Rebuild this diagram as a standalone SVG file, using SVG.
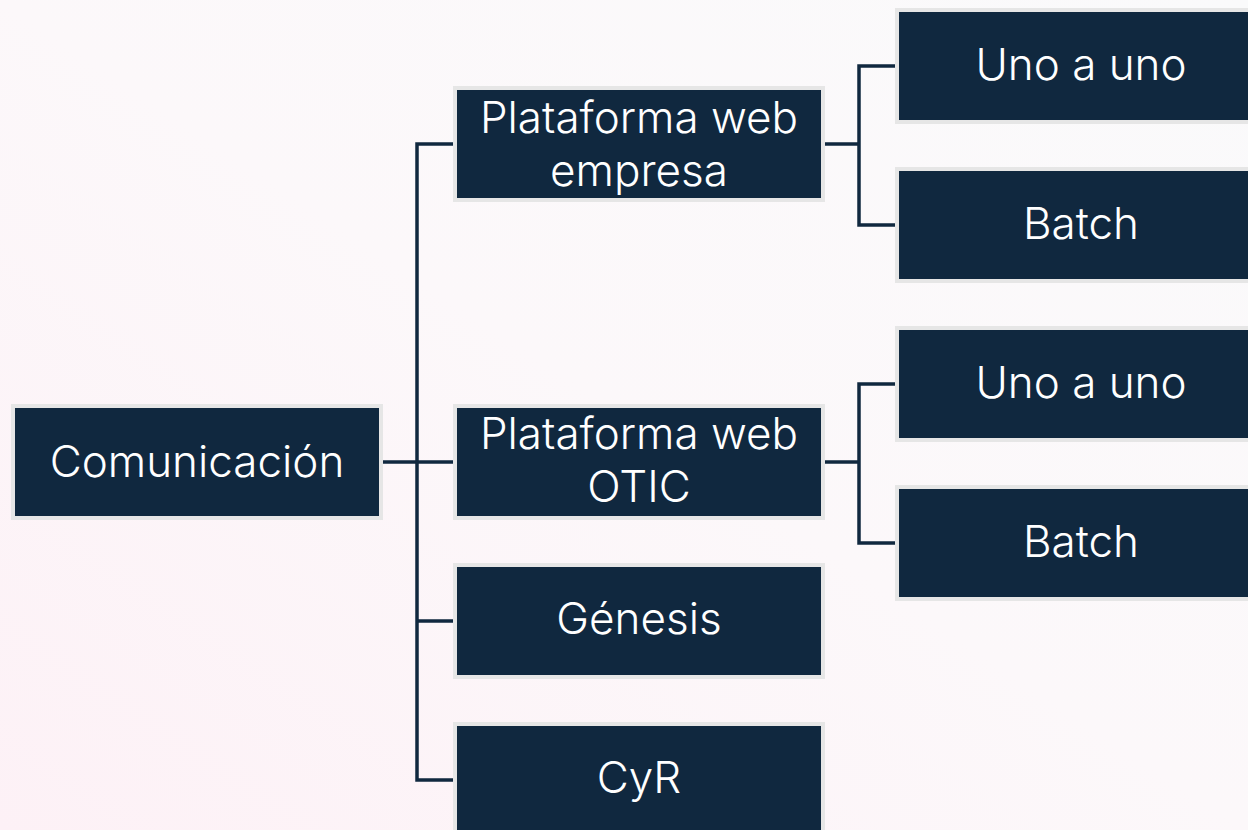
<svg xmlns="http://www.w3.org/2000/svg" width="1248" height="830" viewBox="0 0 1248 830">
<defs>
<linearGradient id="bg" x1="0" y1="1" x2="1" y2="0">
<stop offset="0" stop-color="#fdf1f6"/>
<stop offset="0.5" stop-color="#fcf8fa"/>
<stop offset="1" stop-color="#fafafb"/>
</linearGradient>
<style>
.box{fill:#10283f;stroke:#e6e6e6;stroke-width:4}
.t{fill:#ffffff;font-family:Inter,"Open Sans","Liberation Sans",sans-serif;font-size:44px;font-weight:300;text-anchor:middle}
.c{fill:none;stroke:#10283f;stroke-width:3.5}
</style>
</defs>
<rect width="1248" height="830" fill="url(#bg)"/>
<g id="connectors">
<path class="c" d="M383 462H417M453 144H417V780H453M417 462H453M417 621H453"/>
<path class="c" d="M825 144H859M895 66H859V225H895"/>
<path class="c" d="M825 462H859M895 384H859V543H895"/>
</g>
<g id="n-comunicacion"><rect class="box" x="13" y="406" width="368" height="112"/><text class="t" x="197" y="477">Comunicación</text></g>
<g id="n-web-empresa"><rect class="box" x="455" y="88" width="368" height="112"/><text class="t" x="639" y="133">Plataforma web</text><text class="t" x="639" y="186">empresa</text></g>
<g id="n-web-otic"><rect class="box" x="455" y="406" width="368" height="112"/><text class="t" x="639" y="449">Plataforma web</text><text class="t" x="639" y="502">OTIC</text></g>
<g id="n-genesis"><rect class="box" x="455" y="565" width="368" height="112"/><text class="t" x="639" y="634">Génesis</text></g>
<g id="n-cyr"><rect class="box" x="455" y="724" width="368" height="112"/><text class="t" x="639" y="793">CyR</text></g>
<g id="n-uno1"><rect class="box" x="897" y="10" width="368" height="112"/><text class="t" x="1081" y="80">Uno a uno</text></g>
<g id="n-batch1"><rect class="box" x="897" y="169" width="368" height="112"/><text class="t" x="1081" y="239">Batch</text></g>
<g id="n-uno2"><rect class="box" x="897" y="328" width="368" height="112"/><text class="t" x="1081" y="398">Uno a uno</text></g>
<g id="n-batch2"><rect class="box" x="897" y="487" width="368" height="112"/><text class="t" x="1081" y="557">Batch</text></g>
</svg>
